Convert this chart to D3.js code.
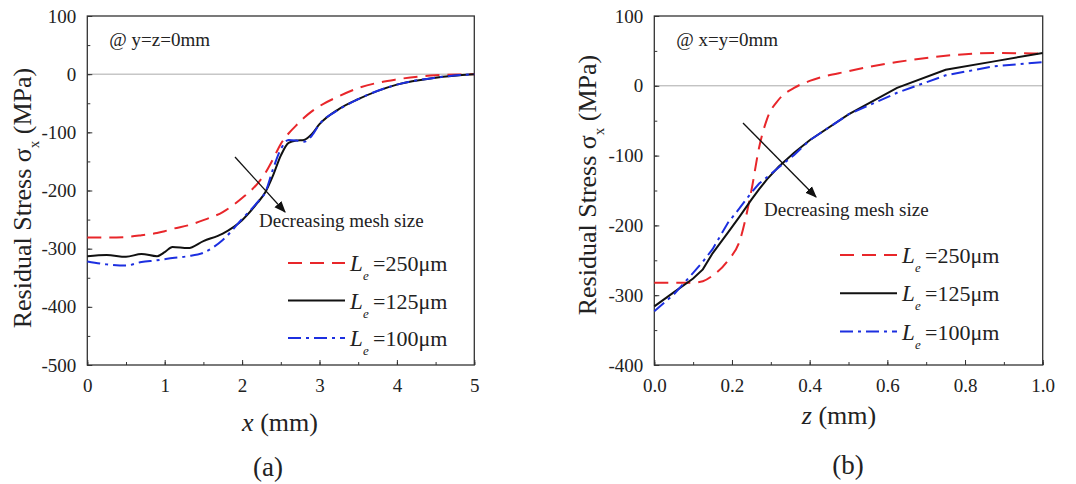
<!DOCTYPE html>
<html>
<head>
<meta charset="utf-8">
<script src="https://cdn.jsdelivr.net/npm/d3@7"></script>
<style>
  body { margin: 0; background: #fff; }
  svg text { font-family: "Times New Roman", Times, "Liberation Serif", "DejaVu Serif", serif; fill: #222; }
</style>
</head>
<body>
<svg id="fig" width="1076" height="484"></svg>
<script>
// panel (a): stress along x at y=z=0
var xA = [0, 0.25, 0.5, 0.7, 0.9, 1.0, 1.1, 1.3, 1.5, 1.75, 2.0, 2.2, 2.3, 2.4, 2.5, 2.6, 2.7, 2.8, 2.9, 3.0, 3.25, 3.5, 4.0, 4.5, 5.0];
var a250 = [-281, -281, -280, -277, -273, -270, -266, -260, -251, -237, -213, -188, -170, -146, -120, -102, -88, -75, -64, -55, -38, -24, -9, -2, 0];
var a125 = [-313, -311, -314, -309, -313, -306, -297, -299, -287, -274, -251, -221, -203, -174, -140, -118, -114, -113, -103, -86, -60, -43, -18, -6, 0];
var a100 = [-322, -327, -329, -323, -320, -318, -316, -313, -307, -285, -249, -220, -203, -163, -129, -113, -114, -116, -106, -86, -61, -43, -18, -6, 0];

// panel (b): stress along z at x=y=0
var zB = [0, 0.05, 0.1, 0.125, 0.15, 0.19, 0.22, 0.25, 0.27, 0.29, 0.32, 0.36, 0.4, 0.5, 0.625, 0.75, 0.875, 1.0];
var b250 = [-282, -282, -282, -280, -272, -250, -222, -150, -88, -48, -20, -3, 7, 21, 34, 43, 47, 46];
var b125 = [-316, -296, -276, -263, -240, -210, -187, -163, -148, -134, -116, -96, -78, -41, -3, 23, 35, 47];
var b100 = [-323, -299, -268, -252, -234, -196, -175, -153, -140, -131, -117, -99, -78, -41, -10, 15, 28, 34];

var seriesNames = ["=250\u03bcm", "=125\u03bcm", "=100\u03bcm"];
var seriesColors = ["#e8262a", "#111111", "#1c2fe0"];
var seriesDash = ["14,8", null, "13,5,3,5"];

var yTicksA = [100, 0, -100, -200, -300, -400, -500];
var xTicksA = [0, 1, 2, 3, 4, 5];
var yTicksB = [100, 0, -100, -200, -300, -400];
var xTicksB = [0, 0.2, 0.4, 0.6, 0.8, 1.0];

var FONT = '"Times New Roman", Times, "Liberation Serif", "DejaVu Serif", serif';

var svg = d3.select("#fig");
svg.append("defs").append("marker")
  .attr("id", "arrow").attr("viewBox", "0 0 10 10")
  .attr("refX", 9).attr("refY", 5)
  .attr("markerWidth", 9).attr("markerHeight", 9)
  .attr("orient", "auto")
  .append("path").attr("d", "M0,1 L10,5 L0,9 Z").attr("fill", "#111");

function drawPanel(p) {
  var x = d3.scaleLinear().domain(p.xDom).range([p.left, p.right]);
  var y = d3.scaleLinear().domain(p.yDom).range([p.bottom, p.top]);
  var g = svg.append("g");

  // zero line
  g.append("line").attr("x1", p.left).attr("x2", p.right)
    .attr("y1", y(0)).attr("y2", y(0))
    .attr("stroke", "#aaa").attr("stroke-width", 1);

  // inward ticks, minor then major
  var xMinor = d3.range(p.xDom[0], p.xDom[1] + 1e-9, p.xMinor);
  var yMinor = d3.range(p.yDom[0], p.yDom[1] + 1e-9, 50);
  g.append("g").attr("transform", "translate(0," + p.bottom + ")")
    .call(d3.axisBottom(x).tickValues(xMinor).tickSizeInner(-3).tickSizeOuter(0).tickFormat(""))
    .call(s => s.select(".domain").remove());
  g.append("g").attr("transform", "translate(" + p.left + ",0)")
    .call(d3.axisLeft(y).tickValues(yMinor).tickSizeInner(-3).tickSizeOuter(0).tickFormat(""))
    .call(s => s.select(".domain").remove());
  var gx = g.append("g").attr("transform", "translate(0," + p.bottom + ")")
    .call(d3.axisBottom(x).tickValues(p.xTicks).tickSizeInner(-5).tickSizeOuter(0).tickPadding(14).tickFormat(p.xFmt));
  var gy = g.append("g").attr("transform", "translate(" + p.left + ",0)")
    .call(d3.axisLeft(y).tickValues(p.yTicks).tickSizeInner(-5).tickSizeOuter(0).tickPadding(11)
      .tickFormat(d => String(d)));
  [gx, gy].forEach(function(a) {
    a.attr("font-family", null);
    a.select(".domain").remove();
    a.selectAll("text").style("font-family", FONT).style("font-size", "19px").attr("fill", "#222");
  });
  g.selectAll(".tick line").attr("stroke", "#333");

  // frame
  g.append("rect").attr("x", p.left).attr("y", p.top)
    .attr("width", p.right - p.left).attr("height", p.bottom - p.top)
    .attr("fill", "none").attr("stroke", "#333").attr("stroke-width", 1.3);

  // curves
  p.series.forEach(function(vals, i) {
    var pts = p.xs.map(function(v, k) { return [v, vals[k]]; });
    var line = d3.line().x(d => x(d[0])).y(d => y(d[1]))
      .curve(p.curves[i]);
    g.append("path").datum(pts).attr("d", line)
      .attr("fill", "none").attr("stroke", seriesColors[i])
      .attr("stroke-width", 2).attr("stroke-dasharray", seriesDash[i]);
  });

  // legend
  seriesNames.forEach(function(name, i) {
    var ly = p.legY + i * p.legStep;
    g.append("line").attr("x1", p.legX).attr("x2", p.legX + 57)
      .attr("y1", ly).attr("y2", ly)
      .attr("stroke", seriesColors[i]).attr("stroke-width", 2)
      .attr("stroke-dasharray", seriesDash[i]);
    g.append("text").attr("x", p.legX + 62).attr("y", ly + 8)
      .style("font-size", "23px").style("font-style", "italic").text("L");
    g.append("text").attr("x", p.legX + 75).attr("y", ly + 17)
      .style("font-size", "13px").style("font-style", "italic").text("e");
    g.append("text").attr("x", p.legX + 85).attr("y", ly + 8)
      .style("font-size", "22px").text(name);
  });

  // note and arrow
  g.append("text").attr("x", p.left + 22).attr("y", 46)
    .style("font-size", "19px").text(p.note);
  g.append("line").attr("x1", p.arrow[0]).attr("y1", p.arrow[1])
    .attr("x2", p.arrow[2]).attr("y2", p.arrow[3])
    .attr("stroke", "#111").attr("stroke-width", 1.3)
    .attr("marker-end", "url(#arrow)");
  g.append("text").attr("x", p.decX).attr("y", p.decY)
    .style("font-size", "19px").text("Decreasing mesh size");

  // axis titles
  var yt = g.append("text")
    .attr("transform", "translate(" + p.yTitleX + "," + p.yTitleY + ") rotate(-90)")
    .attr("text-anchor", "middle").style("font-size", "26px");
  yt.append("tspan").text("Residual Stress \u03c3");
  yt.append("tspan").attr("dy", 8).style("font-size", "15px").text("x");
  yt.append("tspan").attr("dy", -8).text(" (MPa)");

  var xt = g.append("text").attr("x", p.xTitleX).attr("y", p.xTitleY)
    .attr("text-anchor", "middle").style("font-size", "26px");
  xt.append("tspan").style("font-style", "italic").text(p.xVar);
  xt.append("tspan").text(" (mm)");

  g.append("text").attr("x", p.capX).attr("y", p.capY)
    .attr("text-anchor", "middle").style("font-size", "27px").text(p.cap);
}

drawPanel({
  left: 87.3, right: 474.3, top: 16, bottom: 365,
  xDom: [0, 5], yDom: [-500, 100], xMinor: 0.5,
  xTicks: xTicksA, yTicks: yTicksA, xFmt: d3.format("d"),
  xs: xA, series: [a250, a125, a100],
  curves: [d3.curveMonotoneX, d3.curveMonotoneX, d3.curveMonotoneX],
  legX: 288, legY: 263, legStep: 37.5,
  note: "@ y=z=0mm", arrow: [235, 157, 285, 212], decX: 259, decY: 227,
  yTitleX: 31, yTitleY: 198, xTitleX: 280, xTitleY: 431, xVar: "x",
  capX: 268, capY: 476, cap: "(a)"
});

drawPanel({
  left: 654.3, right: 1042.7, top: 16, bottom: 365,
  xDom: [0, 1], yDom: [-400, 100], xMinor: 0.1,
  xTicks: xTicksB, yTicks: yTicksB, xFmt: d3.format(".1f"),
  xs: zB, series: [b250, b125, b100],
  curves: [d3.curveMonotoneX, d3.curveLinear, d3.curveLinear],
  legX: 840, legY: 255, legStep: 38.3,
  note: "@ x=y=0mm", arrow: [743, 123, 816, 197], decX: 764, decY: 216,
  yTitleX: 596, yTitleY: 185, xTitleX: 839, xTitleY: 424, xVar: "z",
  capX: 848, capY: 474, cap: "(b)"
});
</script>
</body>
</html>
